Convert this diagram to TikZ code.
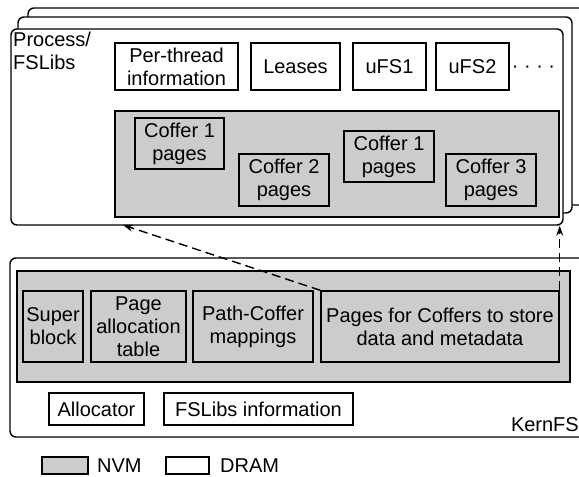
\documentclass[tikz,border=0pt]{standalone}
\usepackage{fontspec}
\setmainfont{Liberation Sans}
\usetikzlibrary{arrows.meta}
\definecolor{nvmgray}{RGB}{204,204,204}

\begin{document}
\begin{tikzpicture}
[
    x=1pt, y=-1pt,
    every node/.style={font=\fontsize{20}{23}\selectfont, inner sep=0pt},
    frame/.style={draw, line width=1.4pt, rounded corners=6pt, fill=white},
    box/.style={draw, line width=1.4pt, align=center, fill=white},
    nvm/.style={draw, line width=1.4pt, align=center, fill=nvmgray},
    link/.style={line width=1.4pt, dash pattern=on 9pt off 5pt, -{Stealth[length=10pt,width=7pt]}},
]
\clip (0,0) rectangle (579,477);
% stacked processes behind
\draw[frame] (28,8) rectangle (620,205);
\draw[frame] (18,17) rectangle (572,213);
\node[frame, minimum width=552pt, minimum height=196pt] (proc) at (287,127) {};
\node[anchor=north west, align=left] (proclabel) at (13,32) {Process/\\FSLibs};
\node[box, minimum width=123pt, minimum height=47pt] (perthread) at (176.5,66.5) {Per-thread\\information};
\node[box, minimum width=89pt, minimum height=47pt] (leases) at (295.5,66.5) {Leases};
\node[box, minimum width=73pt, minimum height=47pt] (ufsa) at (389.5,66.5) {uFS1};
\node[box, minimum width=73pt, minimum height=47pt] (ufsb) at (472.5,66.5) {uFS2};
\node (more) at (533.5,69) {· · · ·};
\node[nvm, minimum width=444pt, minimum height=106pt] (pmem) at (337,164) {};
\node[nvm, minimum width=89pt, minimum height=51pt] (cofa) at (179.5,143.5) {Coffer 1\\pages};
\node[nvm, minimum width=90pt, minimum height=52pt] (cofb) at (284,180) {Coffer 2\\pages};
\node[nvm, minimum width=90pt, minimum height=51pt] (cofc) at (389,156.5) {Coffer 1\\pages};
\node[nvm, minimum width=90pt, minimum height=52pt] (cofd) at (491,180) {Coffer 3\\pages};
% kernel side
\node[frame, minimum width=610pt, minimum height=179pt] (kern) at (315,347.5) {};
\node[anchor=base east] (kernlabel) at (579,431) {KernFS};
\node[nvm, minimum width=553pt, minimum height=111pt] (kmem) at (293.5,326.5) {};
\node[nvm, minimum width=60pt, minimum height=71pt] (super) at (53,326.5) {Super\\block};
\node[nvm, minimum width=95pt, minimum height=71pt] (alloctab) at (138.5,326.5) {Page\\allocation\\table};
\node[nvm, minimum width=120pt, minimum height=71pt] (pathmap) at (253,326.5) {Path-Coffer\\mappings};
\node[nvm, minimum width=238pt, minimum height=71pt] (pages) at (440,326.5) {Pages for Coffers to store\\data and metadata};
\node[box, minimum width=95pt, minimum height=32pt] (allocator) at (96.5,409) {Allocator};
\node[box, minimum width=189pt, minimum height=32pt] (fslibs) at (258.5,409) {FSLibs information};
% mappings into the process
\coordinate (tipA) at (123,225);
\draw[link] (pages.north west) -- (tipA);
\draw[link] (pages.north east) -- (pages.north east |- proc.south);
% legend
\node[nvm, minimum width=46pt, minimum height=17pt] (legnvm) at (65,465.5) {};
\node[anchor=west] (legnvmtext) at (97,465.5) {NVM};
\node[box, minimum width=43pt, minimum height=17pt] (legdram) at (187.5,465.5) {};
\node[anchor=west] (legdramtext) at (220,465.5) {DRAM};
\end{tikzpicture}
\end{document}
